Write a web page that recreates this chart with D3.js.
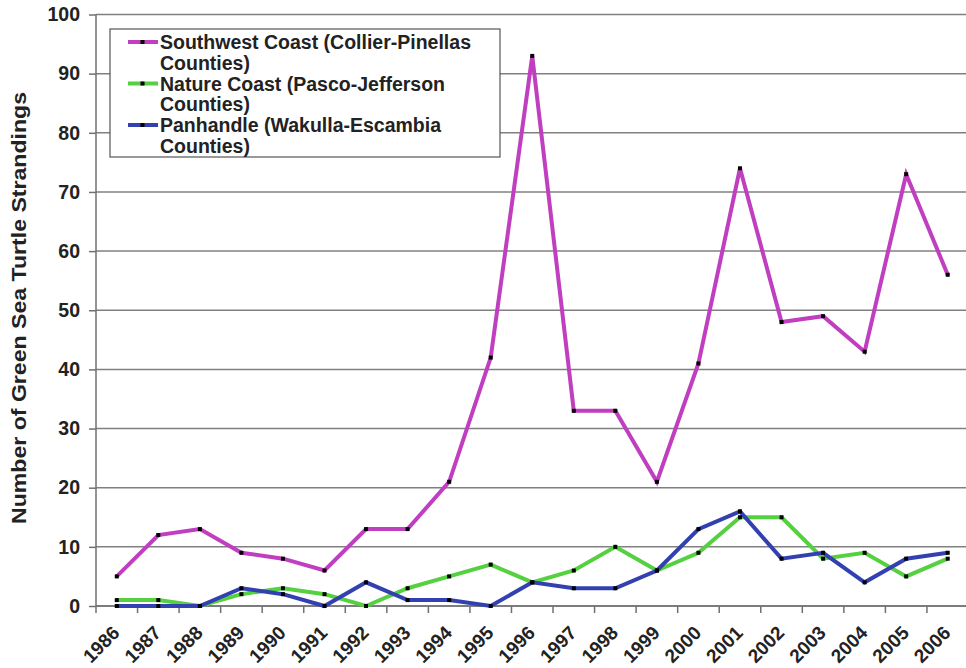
<!DOCTYPE html>
<html><head><meta charset="utf-8">
<script src="https://cdn.jsdelivr.net/npm/d3@7"></script>
<style>body{margin:0;background:#fff}svg{display:block}</style>
</head><body>
<script>
const years = ["1986","1987","1988","1989","1990","1991","1992","1993","1994","1995","1996","1997","1998","1999","2000","2001","2002","2003","2004","2005","2006"];
const southwest = [5,12,13,9,8,6,13,13,21,42,93,33,33,21,41,74,48,49,43,73,56];
const nature = [1,1,0,2,3,2,0,3,5,7,4,6,10,6,9,15,15,8,9,5,8];
const panhandle = [0,0,0,3,2,0,4,1,1,0,4,3,3,6,13,16,8,9,4,8,9];
const yTicks = [0,10,20,30,40,50,60,70,80,90,100];
const seriesNames = ["Southwest Coast (Collier-Pinellas|Counties)","Nature Coast (Pasco-Jefferson|Counties)","Panhandle (Wakulla-Escambia|Counties)"];
const seriesColors = ["#C03EC0","#55D040","#3340B0"];
const seriesData = [southwest, nature, panhandle];

const W=966,H=668;
const svg=d3.select("body").append("svg").attr("width",W).attr("height",H);
const x=d3.scaleBand().domain(years).range([96,968.5]);
const y=d3.scaleLinear().domain([0,100]).range([606,14.5]);
const font="Liberation Sans, Arial, sans-serif";

// gridlines
svg.append("g").selectAll("line").data(yTicks).join("line")
 .attr("x1",96).attr("x2",W).attr("y1",d=>y(d)).attr("y2",d=>y(d))
 .attr("stroke","#808080").attr("stroke-width",1.5);

// y axis
const ya=svg.append("g").attr("transform","translate(96,0)")
 .call(d3.axisLeft(y).tickValues(yTicks).tickSize(7).tickPadding(9));
ya.select(".domain").attr("stroke","#707070").attr("stroke-width",1.5).attr("d","M0,14.5V606");
ya.selectAll(".tick line").attr("stroke","#707070").attr("stroke-width",1.5);
ya.selectAll("text").attr("font-family",font).attr("font-weight","bold").attr("font-size",19.5).attr("fill","#222");

// x axis
const xa=svg.append("g").attr("transform","translate(0,606)")
 .call(d3.axisBottom(x).tickSize(0).tickPadding(0));
xa.select(".domain").remove();
xa.selectAll(".tick text").attr("font-family",font).attr("font-weight","bold").attr("font-size",19).attr("fill","#222")
 .attr("text-anchor","end").attr("dy",0).attr("transform","translate(4,28) rotate(-45)");
svg.append("g").selectAll("line").data(years.concat(["end"])).join("line")
 .attr("x1",(d,i)=>96+i*x.step()).attr("x2",(d,i)=>96+i*x.step())
 .attr("y1",606).attr("y2",613).attr("stroke","#707070").attr("stroke-width",1.5);
svg.append("line").attr("x1",96).attr("x2",W).attr("y1",606).attr("y2",606).attr("stroke","#707070").attr("stroke-width",1.5);

// y title
svg.append("text").attr("transform","translate(26,308) rotate(-90)").attr("text-anchor","middle")
 .attr("font-family",font).attr("font-weight","bold").attr("font-size",21).attr("fill","#222")
 .attr("textLength",432).attr("lengthAdjust","spacingAndGlyphs")
 .text("Number of Green Sea Turtle Strandings");

// lines
const line=d3.line().x((d,i)=>x(years[i])+x.bandwidth()/2).y(d=>y(d));
const order=[1,2,0];
order.forEach(k=>{
  svg.append("path").datum(seriesData[k]).attr("d",line).attr("fill","none")
   .attr("stroke",seriesColors[k]).attr("stroke-width",4).attr("stroke-linejoin","miter");
});
order.forEach(k=>{
  svg.append("g").selectAll("rect").data(seriesData[k]).join("rect")
   .attr("x",(d,i)=>x(years[i])+x.bandwidth()/2-2).attr("y",d=>y(d)-2).attr("width",4).attr("height",4).attr("fill","#000");
});

// legend
const lg=svg.append("g");
lg.append("rect").attr("x",110).attr("y",29).attr("width",390).attr("height",128).attr("fill","#fff").attr("stroke","#555").attr("stroke-width",1.2);
seriesNames.forEach((n,i)=>{
  const yy=42+i*41.5;
  lg.append("line").attr("x1",128).attr("x2",158).attr("y1",yy).attr("y2",yy).attr("stroke",seriesColors[i]).attr("stroke-width",4);
  lg.append("rect").attr("x",140.5).attr("y",yy-2).attr("width",4).attr("height",4).attr("fill","#000");
  const parts=n.split("|");
  parts.forEach((p,j)=>{
    lg.append("text").attr("x",160).attr("y",yy+7+j*20.5).attr("font-family",font).attr("font-weight","bold")
     .attr("font-size",19.5).attr("fill","#222").text(p);
  });
});
</script>
</body></html>
